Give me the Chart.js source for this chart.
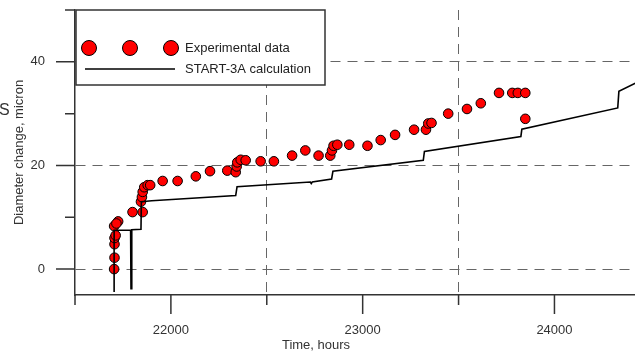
<!DOCTYPE html>
<html>
<head>
<meta charset="utf-8">
<script src="https://cdn.jsdelivr.net/npm/chart.js@4.4.0/dist/chart.umd.min.js"></script>
<style>
  html, body { margin: 0; padding: 0; background: #fff; }
  #wrap { width: 635px; height: 352px; }
</style>
</head>
<body>
<div id="wrap"><canvas id="chart"></canvas></div>
<script>
// experimental points
const expTime = [21704, 21706, 21706, 21706, 21712, 21704, 21725, 21716, 21800, 21853,
    21844, 21849, 21853, 21861, 21879, 21892, 21957, 22035, 22130, 22204,
    22294, 22338, 22343, 22346, 22364, 22390, 22468, 22537, 22632, 22701,
    22770, 22831, 22840, 22848, 22868, 22930, 23025, 23094, 23169, 23268,
    23330, 23342, 23359, 23446, 23544, 23616, 23711, 23780, 23809, 23848, 23848];
const expDiam = [0, 2.2, 4.8, 6.0, 6.5, 8.3, 9.2, 8.8, 11, 11,
    13, 13.9, 14.9, 15.8, 16.2, 16.2, 17, 17, 17.9, 18.9,
    19.0, 18.7, 19.8, 20.6, 21.1, 21.0, 20.8, 20.8, 21.9, 22.9,
    21.9, 21.9, 22.9, 23.8, 24.0, 24.0, 23.8, 24.9, 25.9, 26.9,
    26.9, 28.1, 28.2, 30.0, 30.9, 32.0, 34.0, 34.0, 34.0, 34.0, 29.0];

// START-3A calculation line
const calcTime = [21704, 21704, 21790, 21792, 21796, 21844, 21846, 21900, 22338, 22345,
    22727, 22732, 22737, 22838, 22845, 23316, 23322, 23825, 23830, 24330, 24336, 24430];
const calcDiam = [-4.4, 7.5, 7.5, -3.8, 7.6, 7.7, 13.0, 13.2, 14.2, 15.9,
    16.8, 16.5, 16.8, 17.4, 18.9, 21.0, 22.7, 25.6, 27.0, 31.1, 34.3, 36.0];

const xTicks = [21500, 22000, 22500, 23000, 23500, 24000];
const xTickLabels = [22000, 23000, 24000];
const xGridAt = [22500, 23500];
const yTicks = [0, 10, 20, 30, 40, 50];
const yTickLabels = [0, 20, 40];

const font = { family: '"Liberation Sans", Arial, sans-serif', size: 13 };
const textColor = '#333';
const axisColor = '#333';
const gridColor = '#666';

// keep the plot box fixed: no extra padding from tick labels
function noPad(s) {
    s.paddingTop = 0;
    s.paddingBottom = 0;
    s.paddingLeft = 0;
    s.paddingRight = 0;
}

const decor = {
    id: 'decor',
    afterDraw(chart) {
        const { ctx, chartArea: a, scales: { x, y } } = chart;
        ctx.save();

        // tick marks, long for labelled ones
        ctx.strokeStyle = axisColor;
        ctx.lineWidth = 1.5;
        ctx.beginPath();
        yTicks.forEach(v => {
            const py = y.getPixelForValue(v);
            const len = yTickLabels.includes(v) ? 19 : 10;
            ctx.moveTo(a.left - len, py);
            ctx.lineTo(a.left, py);
        });
        xTicks.forEach(v => {
            const px = x.getPixelForValue(v);
            const len = xTickLabels.includes(v) ? 19 : 10;
            ctx.moveTo(px, a.bottom);
            ctx.lineTo(px, a.bottom + len);
        });
        ctx.stroke();

        // x axis title
        ctx.fillStyle = textColor;
        ctx.font = '13px "Liberation Sans", Arial, sans-serif';
        ctx.textAlign = 'center';
        ctx.textBaseline = 'middle';
        ctx.fillText('Time, hours', 316, 345);

        // clipped letter at the left edge
        ctx.textAlign = 'left';
        ctx.textBaseline = 'alphabetic';
        ctx.font = '16px "Liberation Sans", Arial, sans-serif';
        ctx.fillText('S', -1, 115);

        // legend box
        ctx.fillStyle = '#fff';
        ctx.fillRect(76, 10, 249, 75);
        ctx.strokeStyle = axisColor;
        ctx.lineWidth = 1.5;
        ctx.strokeRect(76, 10, 249, 75);

        [89, 130, 171].forEach(cx => {
            ctx.beginPath();
            ctx.arc(cx, 48, 7.5, 0, Math.PI * 2);
            ctx.fillStyle = '#ff0000';
            ctx.fill();
            ctx.lineWidth = 1;
            ctx.strokeStyle = '#000';
            ctx.stroke();
        });
        ctx.beginPath();
        ctx.moveTo(85, 69);
        ctx.lineTo(175, 69);
        ctx.lineWidth = 1.6;
        ctx.strokeStyle = '#000';
        ctx.stroke();

        ctx.fillStyle = '#222';
        ctx.font = '13px "Liberation Sans", Arial, sans-serif';
        ctx.textBaseline = 'middle';
        ctx.fillText('Experimental data', 185, 48);
        ctx.fillText('START-3A calculation', 185, 69);

        ctx.restore();
    }
};

new Chart(document.getElementById('chart'), {
    type: 'scatter',
    data: {
        datasets: [{
            label: 'START-3A calculation',
            data: calcTime.map((t, i) => ({ x: t, y: calcDiam[i] })),
            showLine: true,
            borderColor: '#000',
            borderWidth: 1.6,
            pointRadius: 0,
            tension: 0,
            fill: false
        }, {
            label: 'Experimental data',
            data: expTime.map((t, i) => ({ x: t, y: expDiam[i] })),
            backgroundColor: '#ff0000',
            borderColor: '#000',
            borderWidth: 1,
            pointRadius: 4.8
        }]
    },
    options: {
        responsive: true,
        maintainAspectRatio: false,
        animation: false,
        layout: { autoPadding: false, padding: { top: 10, left: 0, right: 0, bottom: 0 } },
        plugins: {
            legend: { display: false },
            tooltip: { enabled: false }
        },
        scales: {
            x: {
                type: 'linear',
                min: 21500,
                max: 24420,
                afterBuildTicks: s => { s.ticks = xTicks.map(v => ({ value: v })); },
                afterFit: s => { s.height = 57; noPad(s); },
                ticks: {
                    callback: v => xTickLabels.includes(v) ? String(v) : '',
                    padding: 28,
                    maxRotation: 0,
                    autoSkip: false,
                    color: textColor,
                    font: font
                },
                grid: {
                    drawTicks: false,
                    color: c => (c.tick && xGridAt.includes(c.tick.value)) ? gridColor : 'rgba(0,0,0,0)',
                    lineWidth: 1
                },
                border: { color: axisColor, width: 1.5, dash: [10, 7] }
            },
            y: {
                type: 'linear',
                min: -5,
                max: 50,
                afterBuildTicks: s => { s.ticks = yTicks.map(v => ({ value: v })); },
                afterFit: s => { s.width = 75; noPad(s); },
                ticks: {
                    callback: v => yTickLabels.includes(v) ? String(v) : '',
                    padding: 30,
                    autoSkip: false,
                    color: textColor,
                    font: font
                },
                grid: {
                    drawTicks: false,
                    color: c => (c.tick && yTickLabels.includes(c.tick.value)) ? gridColor : 'rgba(0,0,0,0)',
                    lineWidth: 1
                },
                border: { color: axisColor, width: 1.5, dash: [10, 7] },
                title: {
                    display: true,
                    text: 'Diameter change, micron',
                    color: textColor,
                    font: font,
                    padding: { top: 12, bottom: 0 }
                }
            }
        }
    },
    plugins: [decor]
});
</script>
</body>
</html>
